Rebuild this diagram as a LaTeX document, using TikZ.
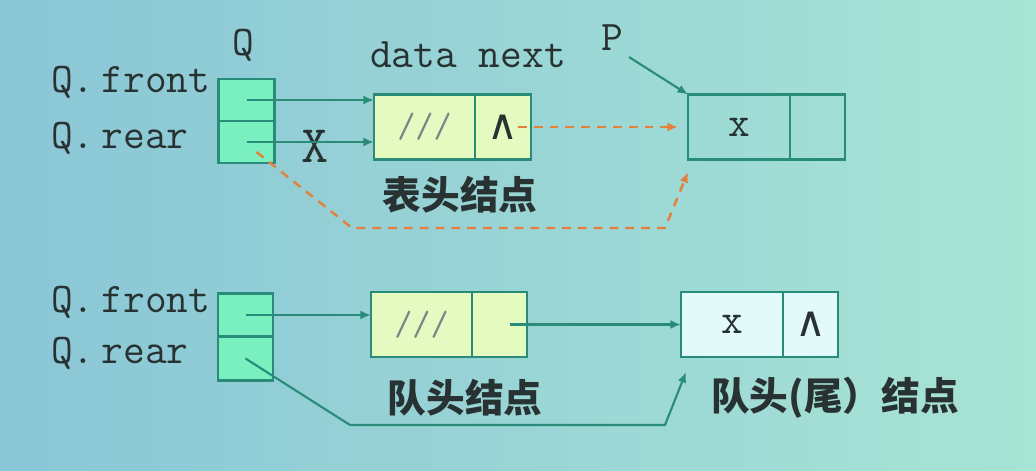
\documentclass[tikz,border=0pt]{standalone}
\usepackage{fontspec}
\newfontfamily\cjk{Noto Sans CJK SC}
\newfontfamily\symf{DejaVu Sans}
\usetikzlibrary{arrows.meta, positioning, calc}
\definecolor{bgleft}{RGB}{138,198,214}
\definecolor{bgright}{RGB}{168,228,212}
\definecolor{lineteal}{RGB}{40,140,120}
\definecolor{qgreen}{RGB}{122,240,192}
\definecolor{headfill}{RGB}{228,250,192}
\definecolor{tailfill}{RGB}{226,250,250}
\definecolor{dashorange}{RGB}{228,128,60}
\definecolor{ink}{RGB}{40,50,50}

\begin{document}
\begin{tikzpicture}[
  cell/.style={draw=lineteal, line width=1.6pt, minimum height=1.3cm, inner sep=0pt, outer sep=0pt},
  qcell/.style={draw=lineteal, line width=1.6pt, fill=qgreen, minimum width=1.12cm, minimum height=0.84cm, inner sep=0pt, outer sep=0pt},
  ptr/.style={-{Latex[length=6pt,width=5pt]}, line width=1.2pt, lineteal},
  optr/.style={-{Latex[length=6pt,width=5pt]}, line width=1.4pt, dashorange, dash pattern=on 5pt off 4pt},
  lbl/.style={font=\fontsize{24}{24}\ttfamily, text=ink},
  cn/.style={font=\fontsize{22}{22}\cjk\bfseries, text=ink},
  nil/.style={font=\fontsize{24}{24}\symf, text=ink}
]
\shade [left color=bgleft, right color=bgright] (0,0) rectangle (20.72,9.4);

% upper queue
\node [lbl] (qname) at (4.86,8.5) {Q};
\node [lbl] (fields) at (9.36,8.3) {data next};
\node [lbl] (pname) at (12.24,8.64) {P};
\node [lbl, anchor=west] (qfront) at (0.9,7.76) {Q.\,front};
\node [lbl, anchor=west] (qrear) at (0.9,6.64) {Q.\,rear};
\node [qcell] (qf) at (4.93,7.4) {};
\node [qcell, below=0pt of qf] (qr) {};
\node [cell, fill=headfill, minimum width=2.02cm] (h1d) at (8.49,6.86) {\fontsize{20}{20}\ttfamily\color{ink!60}///};
\node [cell, fill=headfill, minimum width=1.12cm, right=0pt of h1d, nil] (h1n) {∧};
\node [cell, minimum width=2.04cm] (pd) at (14.78,6.86) {\fontsize{24}{24}\ttfamily\color{ink}x};
\node [cell, minimum width=1.1cm, right=0pt of pd] (pn) {};
\node [cn] (head1) at (9.2,5.5) {表头结点};
\node [lbl, font=\fontsize{30}{30}\ttfamily] (xval) at (6.3,6.48) {X};

\draw [ptr] (qf.center) -- (qf -| h1d.west);
\draw [ptr] (qr.center) -- (qr -| h1d.west);
\draw [optr, shorten <=0.3cm, shorten >=0.2cm] (h1n.center) -- (pd.west);
\draw [ptr] (pname.south east) -- (pd.north west);
\coordinate (o1) at (7.04,4.84);
\coordinate (o2) at (13.3,4.84);
\coordinate (o3) at (13.76,5.96);
\draw [optr] ($(qr.center)+(0.2,-0.2)$) -- (o1) -- (o2) -- (o3);

% lower queue
\node [lbl, anchor=west] (qfront2) at (0.9,3.36) {Q.\,front};
\node [lbl, anchor=west] (qrear2) at (0.9,2.34) {Q.\,rear};
\node [qcell, minimum width=1.1cm, minimum height=0.87cm] (qf2) at (4.91,3.1) {};
\node [qcell, minimum width=1.1cm, minimum height=0.87cm, below=0pt of qf2] (qr2) {};
\node [cell, fill=headfill, minimum width=2.02cm] (h2d) at (8.43,2.91) {\fontsize{20}{20}\ttfamily\color{ink!60}///};
\node [cell, fill=headfill, minimum width=1.1cm, right=0pt of h2d] (h2n) {};
\node [cell, fill=tailfill, minimum width=2.04cm] (t2d) at (14.64,2.91) {\fontsize{24}{24}\ttfamily\color{ink}x};
\node [cell, fill=tailfill, minimum width=1.1cm, right=0pt of t2d, nil] (t2n) {∧};
\node [cn] (head2) at (9.3,1.44) {队头结点};
\node [cn] (tail2) at (16.7,1.44) {队头(尾）结点};

\draw [ptr] (qf2.center) -- (qf2 -| h2d.west);
\draw [ptr, shorten <=0.2cm] (h2n.center) -- (t2d.west);
\coordinate (r1) at (7.0,0.9);
\coordinate (r2) at (13.3,0.9);
\coordinate (r3) at (13.72,1.96);
\draw [ptr] (qr2.center) -- (r1) -- (r2) -- (r3);
\end{tikzpicture}
\end{document}
